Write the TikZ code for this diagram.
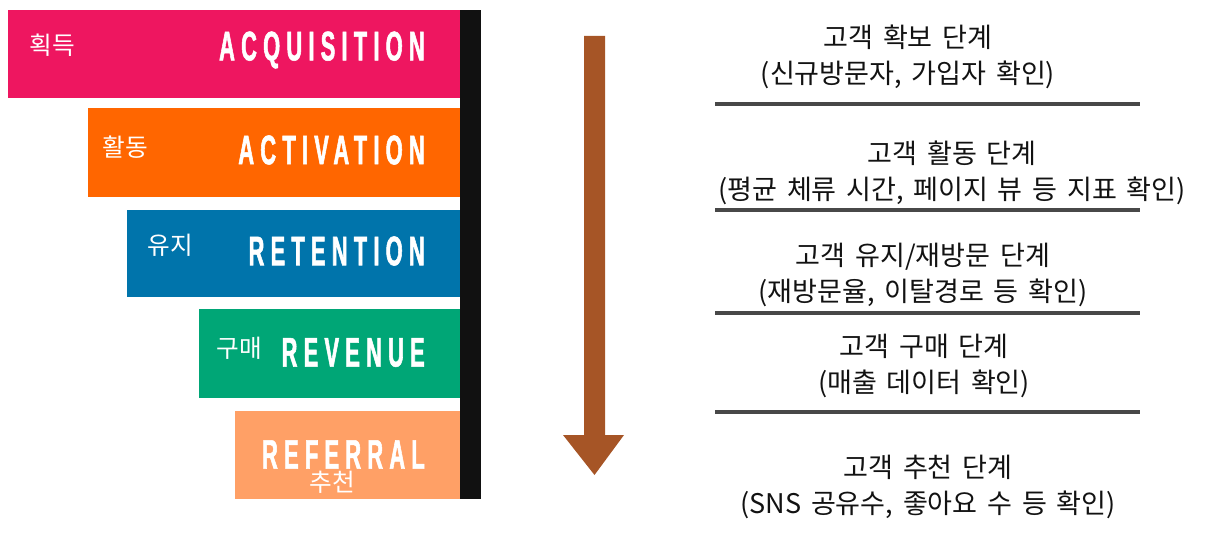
\documentclass[tikz,border=0pt]{standalone}
\usepackage{fontspec}
\setmainfont{Noto Sans CJK KR}[WordSpace=1.6]
\newfontfamily\barfont{Liberation Sans}[FakeStretch=0.53,LetterSpace=15,FakeBold=1.3]
\definecolor{cpink}{HTML}{EE1660}
\definecolor{corange}{HTML}{FF6600}
\definecolor{cblue}{HTML}{0074AB}
\definecolor{cgreen}{HTML}{00A676}
\definecolor{cpeach}{HTML}{FFA066}
\definecolor{cblack}{HTML}{111111}
\definecolor{carrow}{HTML}{A65526}
\definecolor{cline}{HTML}{484848}
\tikzset{
  eng/.style={text=white, anchor=east, inner sep=0pt,
    font=\barfont\bfseries\fontsize{31pt}{31pt}\selectfont},
  kor/.style={text=white, inner sep=0pt, font=\fontsize{18.5pt}{18.5pt}\selectfont},
  desc/.style={align=center, inner sep=0pt, text=black!93,
    font=\fontsize{20.3pt}{27pt}\selectfont},
  sepline/.style={draw=cline, line width=2.3pt}
}
\begin{document}
\begin{tikzpicture}[x=0.75pt,y=-0.75pt]
\useasboundingbox (0,0) rectangle (1206,535);
% bars
\fill[cpink]   (8,10)   rectangle (460,98);
\fill[corange] (88,108) rectangle (460,197);
\fill[cblue]   (127,210) rectangle (460,297);
\fill[cgreen]  (199,309) rectangle (460,398);
\fill[cpeach]  (235,411) rectangle (460,499);
\fill[cblack]  (460,10) rectangle (481,499);
% english labels
\node[eng] (acq) at (425,50) {ACQUISITION};
\node[eng] (act) at (425,150) {ACTIVATION};
\node[eng] (ret) at (425,251) {RETENTION};
\node[eng] (rev) at (425,352.5) {REVENUE};
\node[eng] (ref) at (425,454.5) {REFERRAL};
% korean labels
\node[kor] (k1) at (52,45) {획득};
\node[kor] (k2) at (125.5,147.5) {활동};
\node[kor] (k3) at (170.5,245) {유지};
\node[kor] (k4) at (239.5,348) {구매};
\node[kor] (k5) at (332,482) {추천};
% arrow
\fill[carrow] (584,36) -- (605,36) -- (605,435) -- (624,435) -- (594.5,475) -- (563,435) -- (584,435) -- cycle;
% descriptions
\node[desc] (d1) at (908,57) {고객 확보 단계\\(신규방문자, 가입자 확인)};
\node[desc] (d2) at (952,173) {고객 활동 단계\\(평균 체류 시간, 페이지 뷰 등 지표 확인)};
\node[desc] (d3) at (923,275) {고객 유지/재방문 단계\\(재방문율, 이탈경로 등 확인)};
\node[desc] (d4) at (924,366) {고객 구매 단계\\(매출 데이터 확인)};
\node[desc] (d5) at (928,487) {고객 추천 단계\\(SNS 공유수, 좋아요 수 등 확인)};
% separators
\draw[sepline] (715,104) -- (1140,104);
\draw[sepline] (715,210) -- (1140,210);
\draw[sepline] (715,313) -- (1140,313);
\draw[sepline] (715,412) -- (1140,412);
\end{tikzpicture}
\end{document}
